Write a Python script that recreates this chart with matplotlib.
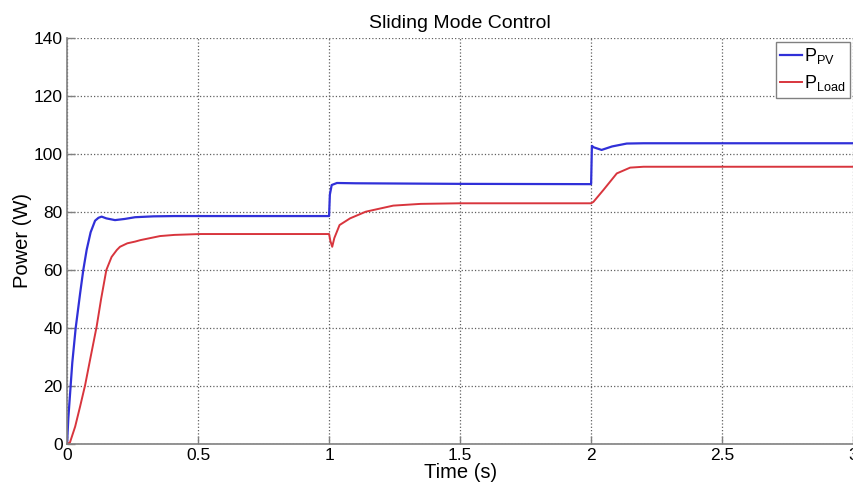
import matplotlib
matplotlib.use("Agg")
from matplotlib import pyplot as plt

plt.rcParams['font.family'] = ['Liberation Sans', 'DejaVu Sans']
plt.rcParams['mathtext.fontset'] = 'custom'
plt.rcParams['mathtext.rm'] = 'Liberation Sans'

# PV power (W) vs time (s)
t_pv = [0, 0.005, 0.02, 0.033, 0.05, 0.062, 0.075, 0.09, 0.107, 0.12, 0.132,
        0.15, 0.183, 0.22, 0.26, 0.33, 0.41, 0.6, 1.0,
        1.003, 1.01, 1.03, 1.1, 1.5, 2.0,
        2.003, 2.01, 2.04, 2.08, 2.136, 2.2, 3.0]
p_pv = [0, 9, 28, 40, 52, 60, 67, 73, 77, 78, 78.4,
        77.8, 77.2, 77.6, 78.2, 78.5, 78.6, 78.6, 78.6,
        86, 89.3, 90.0, 89.9, 89.7, 89.6,
        102.8, 102.3, 101.4, 102.6, 103.6, 103.7, 103.7]

# load power (W) vs time (s)
t_load = [0, 0.011, 0.031, 0.05, 0.069, 0.09, 0.113, 0.13, 0.15, 0.17, 0.19,
          0.202, 0.23, 0.26, 0.28, 0.355, 0.41, 0.51, 1.0,
          1.005, 1.012, 1.02, 1.04, 1.08, 1.14, 1.245, 1.35, 1.5, 2.0,
          2.009, 2.047, 2.098, 2.149, 2.2, 3.0]
p_load = [0, 0.5, 6, 13, 20.3, 30, 40.5, 50, 60, 64.5, 66.9,
          68, 69.2, 69.8, 70.3, 71.7, 72.1, 72.4, 72.4,
          70, 68, 71, 75.5, 77.8, 80.1, 82.2, 82.8, 83, 83,
          83.5, 87.6, 93.3, 95.3, 95.6, 95.6]

x_ticks = [0, 0.5, 1, 1.5, 2, 2.5, 3]
x_labels = ['0', '0.5', '1', '1.5', '2', '2.5', '3']
y_ticks = [0, 20, 40, 60, 80, 100, 120, 140]

fig = plt.figure(figsize=(8.54, 4.87), dpi=100)
ax = fig.add_axes([0.0785, 0.0883, 0.9205, 0.8337])

ax.plot(t_pv, p_pv, color='#3030d8', lw=1.6, label=r'P$_{\mathregular{PV}}$')
ax.plot(t_load, p_load, color='#d8353d', lw=1.4, label=r'P$_{\mathregular{Load}}$')

ax.set_xlim(0, 3)
ax.set_ylim(0, 140)
ax.set_xticks(x_ticks)
ax.set_xticklabels(x_labels)
ax.set_yticks(y_ticks)
ax.tick_params(direction='in', length=6, width=1, color='#808080',
               labelsize=12.5, pad=3)

ax.grid(True, linestyle=':', color='#606060', lw=0.9)
for side in ['top', 'right']:
    ax.spines[side].set_visible(False)
for side in ['left', 'bottom']:
    ax.spines[side].set_color('#808080')
    ax.spines[side].set_linewidth(1.2)

ax.set_title('Sliding Mode Control', fontsize=14, pad=7)
ax.set_xlabel('Time (s)', fontsize=14.5, labelpad=0)
ax.set_ylabel('Power (W)', fontsize=14.5, labelpad=1)

leg = ax.legend(loc='upper right', fontsize=13, handlelength=1.2,
                handletextpad=0.1, borderpad=0.25, labelspacing=0.4,
                fancybox=False, framealpha=1, borderaxespad=0.2)
leg.get_frame().set_edgecolor('#808080')

fig.savefig('out.png', dpi=100)
